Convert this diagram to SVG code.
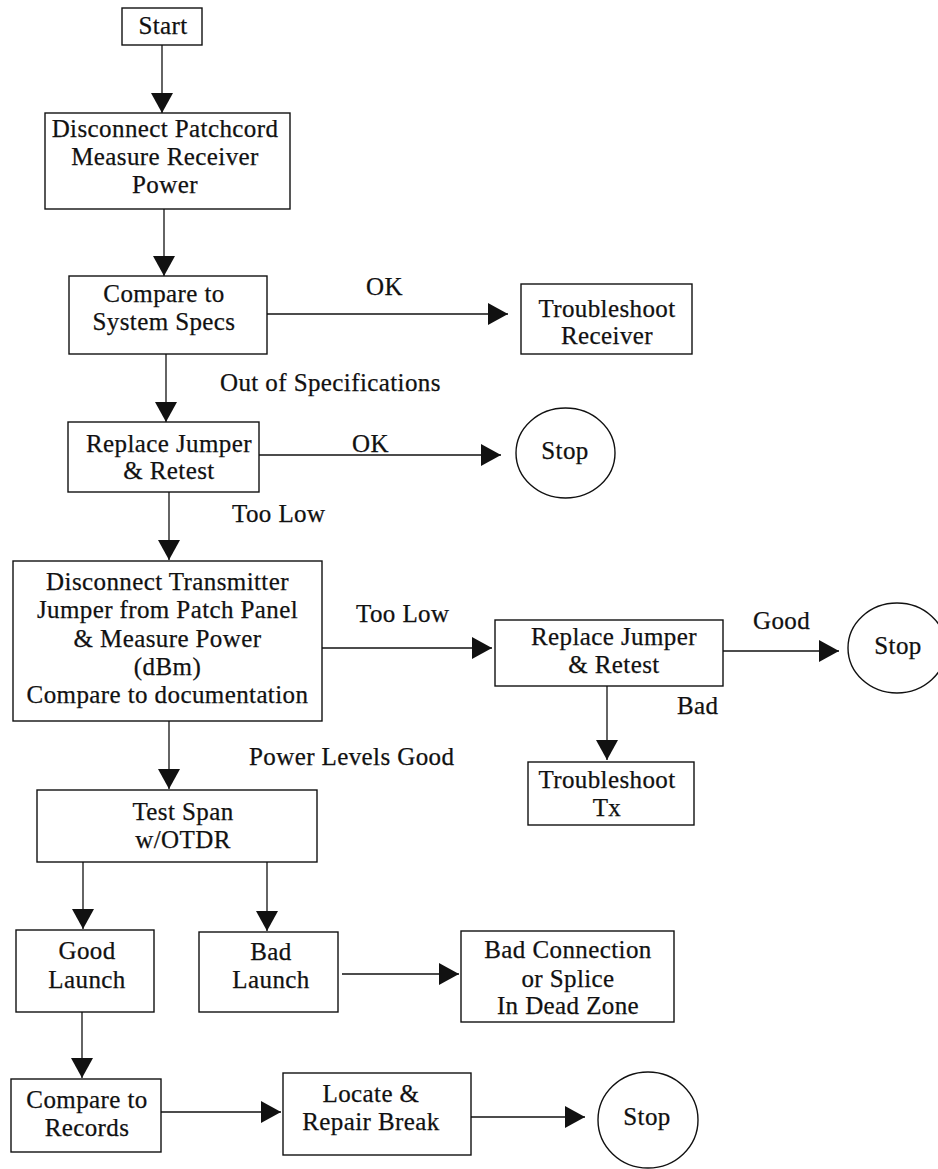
<svg xmlns="http://www.w3.org/2000/svg" width="938" height="1169" viewBox="0 0 938 1169">
<style>
  .box { fill: #fff; stroke: #111; stroke-width: 1.4; }
  .t { font-family: "Liberation Serif", "Times New Roman", serif; font-size: 25px; letter-spacing: 0.4px; fill: #111; stroke: #111; stroke-width: 0.25; text-anchor: middle; }
  .lbl { font-family: "Liberation Serif", "Times New Roman", serif; font-size: 25px; letter-spacing: 0.4px; fill: #111; stroke: #111; stroke-width: 0.25; }
  .edge { stroke: #111; stroke-width: 1.3; fill: none; marker-end: url(#ah); }
</style>
<defs>
  <marker id="ah" markerUnits="userSpaceOnUse" markerWidth="22" markerHeight="22" refX="20" refY="11" orient="auto">
    <path d="M0,0 L20,11 L0,22 Z" fill="#111"/>
  </marker>
</defs>
<rect width="938" height="1169" fill="#fff"/>

<g id="connectors">
  <line class="edge" x1="162" y1="45" x2="162" y2="113"/>
  <line class="edge" x1="164" y1="209" x2="164" y2="276"/>
  <line class="edge" x1="267" y1="314" x2="508" y2="314"/>
  <line class="edge" x1="166" y1="354" x2="166" y2="422"/>
  <line class="edge" x1="259" y1="455" x2="501" y2="455"/>
  <line class="edge" x1="169" y1="492" x2="169" y2="560"/>
  <line class="edge" x1="322" y1="648" x2="492" y2="648"/>
  <line class="edge" x1="723" y1="651" x2="839" y2="651"/>
  <line class="edge" x1="607" y1="686" x2="607" y2="760"/>
  <line class="edge" x1="169" y1="721" x2="169" y2="789"/>
  <line class="edge" x1="83" y1="862" x2="83" y2="929"/>
  <line class="edge" x1="267" y1="862" x2="267" y2="931"/>
  <line class="edge" x1="342" y1="974" x2="459" y2="974"/>
  <line class="edge" x1="82" y1="1012" x2="82" y2="1078"/>
  <line class="edge" x1="161" y1="1112" x2="281" y2="1112"/>
  <line class="edge" x1="471" y1="1117" x2="585" y2="1117"/>
</g>

<g id="labels">
  <text class="lbl" x="366" y="295">OK</text>
  <text class="lbl" x="220" y="391">Out of Specifications</text>
  <text class="lbl" x="352" y="452">OK</text>
  <text class="lbl" x="232" y="522">Too Low</text>
  <text class="lbl" x="356" y="622">Too Low</text>
  <text class="lbl" x="753" y="629">Good</text>
  <text class="lbl" x="677" y="714">Bad</text>
  <text class="lbl" x="249" y="765">Power Levels Good</text>
</g>

<g id="start">
  <rect class="box" x="122" y="8" width="80" height="37"/>
  <text class="t" x="163" y="34">Start</text>
</g>

<g id="disconnect-patchcord">
  <rect class="box" x="45" y="113" width="245" height="96"/>
  <text class="t" x="165" y="137">Disconnect Patchcord</text>
  <text class="t" x="165" y="165">Measure Receiver</text>
  <text class="t" x="165" y="193">Power</text>
</g>

<g id="compare-specs">
  <rect class="box" x="69" y="276" width="198" height="78"/>
  <text class="t" x="164" y="302">Compare to</text>
  <text class="t" x="164" y="330">System Specs</text>
</g>

<g id="troubleshoot-receiver">
  <rect class="box" x="521" y="284" width="171" height="70"/>
  <text class="t" x="607" y="317">Troubleshoot</text>
  <text class="t" x="607" y="344">Receiver</text>
</g>

<g id="replace-jumper-1">
  <rect class="box" x="68" y="422" width="191" height="70"/>
  <text class="t" x="169" y="452">Replace Jumper</text>
  <text class="t" x="169" y="479">&amp; Retest</text>
</g>

<g id="stop-1">
  <ellipse class="box" cx="565.5" cy="453" rx="49.5" ry="45"/>
  <text class="t" x="565" y="459">Stop</text>
</g>

<g id="disconnect-transmitter">
  <rect class="box" x="13" y="561" width="309" height="160"/>
  <text class="t" x="167.5" y="590">Disconnect Transmitter</text>
  <text class="t" x="167.5" y="618">Jumper from Patch Panel</text>
  <text class="t" x="167.5" y="647">&amp; Measure Power</text>
  <text class="t" x="167.5" y="675">(dBm)</text>
  <text class="t" x="167.5" y="703">Compare to documentation</text>
</g>

<g id="replace-jumper-2">
  <rect class="box" x="495" y="620" width="228" height="66"/>
  <text class="t" x="614" y="645">Replace Jumper</text>
  <text class="t" x="614" y="673">&amp; Retest</text>
</g>

<g id="stop-2">
  <ellipse class="box" cx="897" cy="648" rx="49" ry="45"/>
  <text class="t" x="898" y="654">Stop</text>
</g>

<g id="troubleshoot-tx">
  <rect class="box" x="528" y="762" width="166" height="63"/>
  <text class="t" x="607" y="788">Troubleshoot</text>
  <text class="t" x="607" y="816">Tx</text>
</g>

<g id="test-span">
  <rect class="box" x="37" y="790" width="280" height="72"/>
  <text class="t" x="183" y="820">Test Span</text>
  <text class="t" x="183" y="848">w/OTDR</text>
</g>

<g id="good-launch">
  <rect class="box" x="16" y="930" width="138" height="82"/>
  <text class="t" x="87" y="959">Good</text>
  <text class="t" x="87" y="988">Launch</text>
</g>

<g id="bad-launch">
  <rect class="box" x="199" y="932" width="139" height="80"/>
  <text class="t" x="271" y="960">Bad</text>
  <text class="t" x="271" y="988">Launch</text>
</g>

<g id="bad-connection">
  <rect class="box" x="461" y="931" width="213" height="91"/>
  <text class="t" x="568" y="958">Bad Connection</text>
  <text class="t" x="568" y="987">or Splice</text>
  <text class="t" x="568" y="1014">In Dead Zone</text>
</g>

<g id="compare-records">
  <rect class="box" x="11" y="1079" width="150" height="73"/>
  <text class="t" x="87" y="1108">Compare to</text>
  <text class="t" x="87" y="1136">Records</text>
</g>

<g id="locate-repair">
  <rect class="box" x="283" y="1073" width="188" height="82"/>
  <text class="t" x="371" y="1102">Locate &amp;</text>
  <text class="t" x="371" y="1130">Repair Break</text>
</g>

<g id="stop-3">
  <ellipse class="box" cx="648" cy="1120" rx="50" ry="48"/>
  <text class="t" x="647" y="1125">Stop</text>
</g>
</svg>
